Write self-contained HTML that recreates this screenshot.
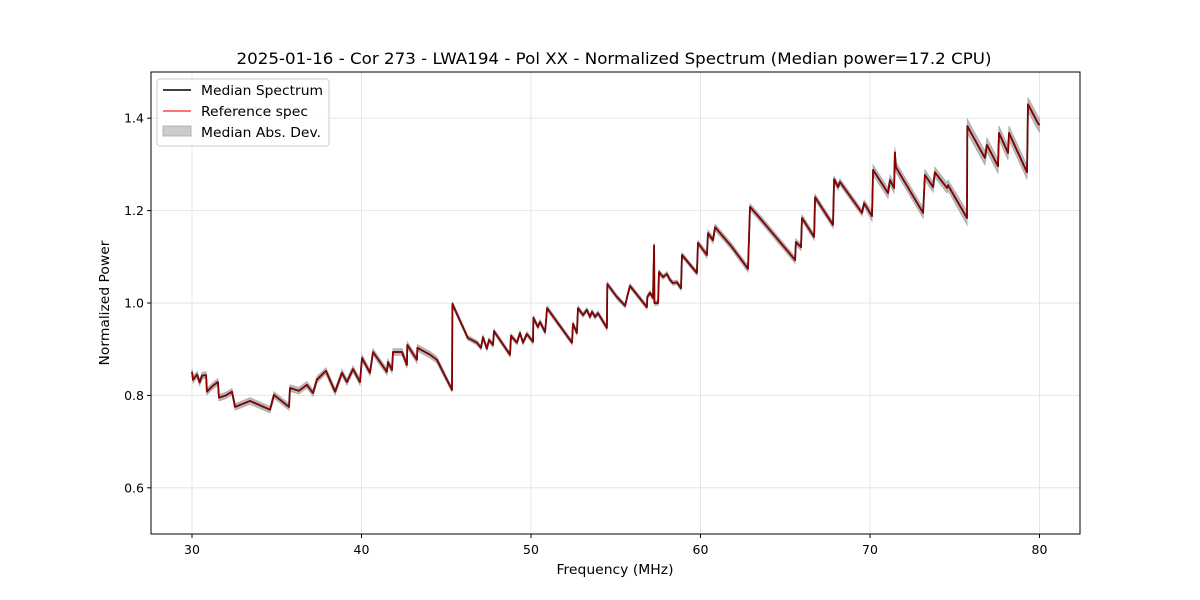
<!DOCTYPE html>
<html><head><meta charset="utf-8"><style>
body{margin:0;background:#fff;}
svg{display:block;font-family:"DejaVu Sans","Liberation Sans",sans-serif;}
</style></head><body>
<svg id="chart" width="1200" height="600">
<rect width="1200" height="600" fill="#fff"/>
<text x="614" y="64" font-size="16" text-anchor="middle" textLength="755" lengthAdjust="spacingAndGlyphs">2025-01-16 - Cor 273 - LWA194 - Pol XX - Normalized Spectrum (Median power=17.2 CPU)</text>
<g id="grid"></g>
<g id="plot"></g>
<rect x="151" y="72" width="929" height="462" fill="none" stroke="#000" stroke-width="1"/>
<g id="xticks"></g><g id="yticks"></g>
<text x="615" y="574" font-size="13" text-anchor="middle" textLength="117" lengthAdjust="spacingAndGlyphs">Frequency (MHz)</text>
<text transform="translate(109,303) rotate(-90)" font-size="13" text-anchor="middle" textLength="125" lengthAdjust="spacingAndGlyphs">Normalized Power</text>
<g>
<rect x="157" y="79" width="172" height="67" rx="3" fill="#fff" stroke="#ccc" fill-opacity="0.8"/>
<g><line x1="163" y1="90" x2="191" y2="90" stroke="#000" stroke-width="1.5"/><text x="201" y="95" font-size="13" textLength="122" lengthAdjust="spacingAndGlyphs">Median Spectrum</text></g>
<g><line x1="163" y1="111" x2="191" y2="111" stroke="#f44" stroke-width="1.5"/><text x="201" y="116" font-size="13" textLength="107" lengthAdjust="spacingAndGlyphs">Reference spec</text></g>
<g><rect x="163" y="126" width="28" height="10" fill="#ccc" stroke="#aaa" stroke-width="0.8"/><text x="201" y="137" font-size="13" textLength="120" lengthAdjust="spacingAndGlyphs">Median Abs. Dev.</text></g>
</g>
</svg>
<script>
const freq=[30.0,30.06,30.3,30.45,30.6,30.83,30.88,31.2,31.53,31.59,32.0,32.36,32.54,33.42,34.6,34.84,35.72,35.78,36.3,36.78,37.14,37.37,37.9,38.44,38.85,39.14,39.5,39.91,40.03,40.5,40.68,41.5,41.56,41.8,41.86,42.39,42.68,42.7,43.27,43.3,44.04,44.45,45.34,45.36,46.28,46.4,46.81,47.05,47.17,47.4,47.52,47.76,47.82,48.58,48.76,48.82,49.17,49.35,49.53,49.76,50.12,50.14,50.41,50.53,50.83,50.95,52.42,52.48,52.71,52.77,53.07,53.3,53.48,53.6,53.78,53.95,54.48,54.5,55.07,55.55,55.66,55.84,56.84,56.86,57.02,57.2,57.26,57.28,57.5,57.55,57.79,58.02,58.2,58.38,58.61,58.85,58.91,59.79,59.85,60.38,60.44,60.74,60.86,61.86,62.8,62.92,63.5,65.58,65.63,65.93,65.99,66.7,66.76,67.82,67.88,68.11,68.23,69.53,69.65,70.12,70.18,71.06,71.18,71.42,71.47,71.53,73.13,73.24,73.72,73.83,74.54,74.6,75.72,75.74,76.78,76.9,77.55,77.61,78.14,78.2,79.26,79.32,79.91,80.0];
const power=[0.851,0.834,0.845,0.828,0.843,0.844,0.808,0.82,0.829,0.795,0.80,0.808,0.775,0.788,0.769,0.801,0.775,0.816,0.81,0.823,0.805,0.834,0.853,0.808,0.849,0.829,0.857,0.829,0.881,0.849,0.894,0.851,0.872,0.855,0.894,0.894,0.866,0.909,0.877,0.903,0.888,0.877,0.812,0.998,0.924,0.922,0.914,0.903,0.926,0.901,0.92,0.909,0.939,0.898,0.888,0.929,0.914,0.935,0.914,0.933,0.916,0.968,0.948,0.959,0.937,0.989,0.914,0.955,0.935,0.989,0.974,0.985,0.970,0.981,0.970,0.978,0.946,1.041,1.013,0.994,1.011,1.037,0.991,1.013,1.022,1.011,1.125,1.0,1.0,1.067,1.056,1.063,1.05,1.043,1.045,1.032,1.104,1.065,1.13,1.104,1.151,1.136,1.164,1.121,1.074,1.208,1.184,1.093,1.132,1.121,1.184,1.143,1.229,1.169,1.268,1.251,1.262,1.195,1.216,1.188,1.288,1.238,1.266,1.249,1.326,1.294,1.195,1.277,1.251,1.283,1.249,1.255,1.184,1.383,1.314,1.342,1.296,1.368,1.325,1.368,1.283,1.430,1.389,1.385];
const madBreaks=[30,45,60,70,75.7];
const madWidth=[0.007,0.005,0.007,0.011,0.015];
const xTicks=[30,40,50,60,70,80];
const yTicks=[0.6,0.8,1.0,1.2,1.4];
const NS='http://www.w3.org/2000/svg';
const X=f=>192+(f-30)*16.95;
const Y=p=>534-(p-0.5)*462;
function mk(t,a,parent){const e=document.createElementNS(NS,t);for(const k in a)e.setAttribute(k,a[k]);document.getElementById(parent).appendChild(e);return e;}
function madAt(f){let w=madWidth[0];for(let i=0;i<madBreaks.length;i++)if(f>=madBreaks[i])w=madWidth[i];return w;}
xTicks.forEach(t=>{
 const g=mk('line',{x1:X(t),x2:X(t),y1:72,y2:534,stroke:'#e6e6e6','stroke-width':1},'grid');
 
 
 mk('line',{x1:X(t),x2:X(t),y1:534,y2:538,stroke:'#000'},'xticks');
 const tx=mk('text',{x:X(t),y:554,'font-size':12.5,'text-anchor':'middle'},'xticks');
 tx.textContent=t;
 
 
});
yTicks.forEach(t=>{
 const g=mk('line',{x1:151,x2:1080,y1:Y(t),y2:Y(t),stroke:'#e6e6e6','stroke-width':1},'grid');
 
 
 mk('line',{x1:147,x2:151,y1:Y(t),y2:Y(t),stroke:'#000'},'yticks');
 const tx=mk('text',{x:144,y:Y(t)+4.5,'font-size':12.5,'text-anchor':'end'},'yticks');
 tx.textContent=t.toFixed(1);
 
 
});
let up='',dn='';
freq.forEach((f,i)=>{const w=madAt(f);up+=(i?'L':'M')+X(f).toFixed(1)+','+Y(power[i]+w).toFixed(1);});
for(let i=freq.length-1;i>=0;i--){dn+='L'+X(freq[i]).toFixed(1)+','+Y(power[i]-madAt(freq[i])).toFixed(1);}
const band=mk('path',{d:up+dn+'Z',fill:'#bbb',stroke:'#aaa','stroke-width':0.8},'plot');


const d=freq.map((f,i)=>(i?'L':'M')+X(f).toFixed(1)+','+Y(power[i]).toFixed(1)).join('');
const med=mk('path',{d:d,fill:'none',stroke:'#000','stroke-width':1.8,'stroke-linejoin':'round'},'plot');


const ref=mk('path',{d:d,fill:'none',stroke:'rgba(220,0,0,0.65)','stroke-width':1.6,'stroke-linejoin':'round'},'plot');


</script>
</body></html>
